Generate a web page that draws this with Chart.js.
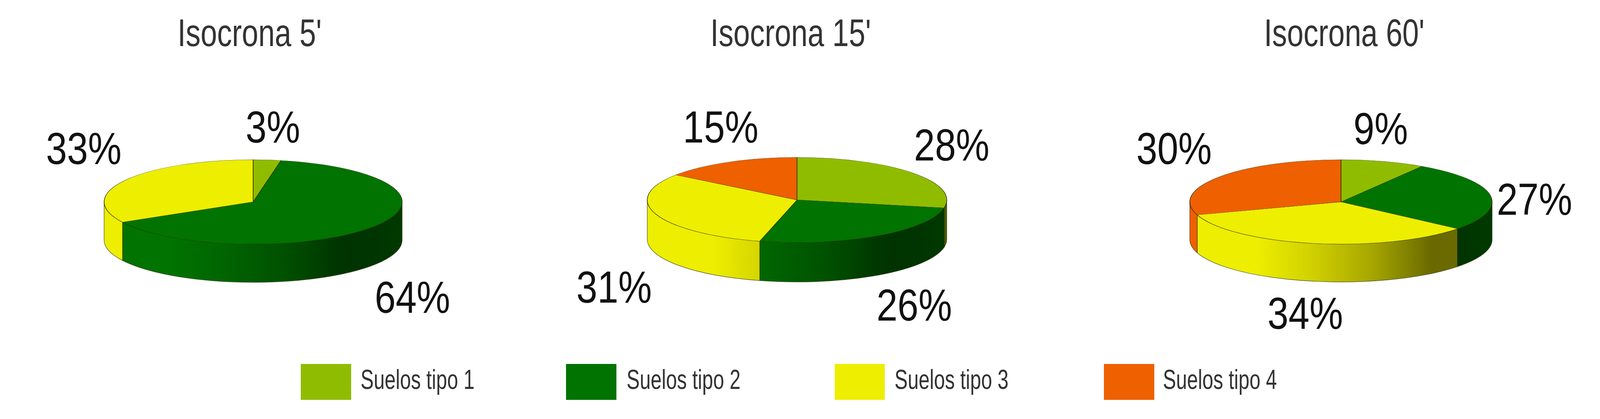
<!DOCTYPE html>
<html lang="es">
<head>
<meta charset="utf-8">
<title>Isocronas</title>
<script src="https://cdn.jsdelivr.net/npm/chart.js@4"></script>
<style>
html,body{margin:0;padding:0;background:#fff;width:100%;height:100%;overflow:hidden}
canvas{position:absolute;top:0}
.sw{position:absolute;top:932px;height:92px}
.lt{position:absolute;top:937px;font:70px/1 "Liberation Sans",Arial,sans-serif;color:#333;transform-origin:0 0;white-space:nowrap}
</style>
</head>
<body>
<div id="legend"></div>
<script>
// ---- data ----
const categories = ["Suelos tipo 1", "Suelos tipo 2", "Suelos tipo 3", "Suelos tipo 4"];
const chartTitles = ["Isocrona 5'", "Isocrona 15'", "Isocrona 60'"];
const isocrona5 = [3, 64, 33, 0];
const isocrona15 = [28, 26, 31, 15];
const isocrona60 = [9, 27, 34, 30];

// ---- styles and layout (designed on a 4488 wide sheet, fitted to the real window) ----
const SX = window.innerWidth / 4488;
const colors = ["#90bc00", "#007300", "#eeee00", "#ee6000"];
const shadeStops = [[0, 1], [0.22, 1], [0.4, 0.88], [0.6, 0.7], [0.8, 0.44], [0.9, 0.45], [1, 0.5]];
const series = [isocrona5, isocrona15, isocrona60];
const panels = [
  {left: 0,    width: 1496, cx: 710,  cy: 517, rx: 418, ry: 108, depth: 98,  titleX: 498,
   labels: [[689, 365], [1051, 801], [129, 420], null]},
  {left: 1496, width: 1496, cx: 2236, cy: 512, rx: 420, ry: 109, depth: 101, titleX: 1993,
   labels: [[2564, 411], [2459, 821], [1617, 775], [1916, 365]]},
  {left: 2992, width: 1496, cx: 3761, cy: 517, rx: 424, ry: 108, depth: 97,  titleX: 3545,
   labels: [[3796, 369], [4198, 550], [3555, 842], [3187, 420]]}
];
const legendX = [844, 1588, 2341, 3097];
const legendTextX = [1011, 1757, 2509, 3262];

function shade(hex, f) {
  const n = parseInt(hex.slice(1), 16);
  const c = [n >> 16 & 255, n >> 8 & 255, n & 255].map(v => Math.round(v * f));
  return `rgb(${c[0]},${c[1]},${c[2]})`;
}
function squeezedText(ctx, text, x, y, size, sx, color) {
  ctx.save();
  ctx.font = `${size}px "Liberation Sans", Arial, sans-serif`;
  ctx.fillStyle = color;
  ctx.textAlign = "left";
  ctx.textBaseline = "alphabetic";
  ctx.translate(x, y);
  ctx.scale(sx, 1);
  ctx.fillText(text, 0, 0);
  ctx.restore();
}

const pie3d = {
  id: "pie3d",
  beforeDatasetsDraw(chart, args, o) {
    const ctx = chart.ctx, meta = chart.getDatasetMeta(0), p = o.panel;
    const first = meta.data[0];
    const cx = first.x, cy = first.y, rx = first.outerRadius, ry = p.ry;
    meta.data.forEach((arc, i) => {
      const s = Math.max(arc.startAngle, 0), e = Math.min(arc.endAngle, Math.PI);
      if (!(s < e)) return;
      const g = ctx.createLinearGradient(cx - rx, 0, cx + rx, 0);
      shadeStops.forEach(st => g.addColorStop(st[0], shade(colors[i], st[1])));
      ctx.beginPath();
      ctx.ellipse(cx, cy, rx, ry, 0, s, e);
      ctx.ellipse(cx, cy + p.depth, rx, ry, 0, e, s, true);
      ctx.closePath();
      ctx.fillStyle = g;
      ctx.fill();
      ctx.lineWidth = 1.5;
      ctx.strokeStyle = "rgba(30,40,0,0.65)";
      ctx.stroke();
    });
    ctx.save();
    ctx.translate(cx, cy);
    ctx.scale(1, ry / rx);
    ctx.translate(-cx, -cy);
  },
  afterDatasetsDraw(chart) { chart.ctx.restore(); },
  afterDraw(chart, args, o) {
    const ctx = chart.ctx, p = o.panel, values = chart.data.datasets[0].data;
    squeezedText(ctx, o.title, (p.titleX - p.left) * SX, 118, 99, 0.84 * SX, "#333333");
    values.forEach((v, i) => {
      if (!v) return;
      const pos = p.labels[i];
      squeezedText(ctx, v + "%", (pos[0] - p.left) * SX, pos[1], 115, 0.92 * SX, "#111111");
    });
  }
};

panels.forEach((p, k) => {
  const cv = document.createElement("canvas");
  const w = Math.round(p.width * SX);
  cv.width = w; cv.height = 1073;
  cv.style.left = Math.round(p.left * SX) + "px";
  cv.style.width = w + "px";
  cv.style.height = "1073px";
  document.body.appendChild(cv);
  const lx = (p.cx - p.left) * SX;
  new Chart(cv, {
    type: "pie",
    data: {
      labels: categories,
      datasets: [{data: series[k], backgroundColor: colors, borderColor: "#2a3000", borderWidth: 1.5}]
    },
    options: {
      responsive: false,
      animation: false,
      devicePixelRatio: 1,
      radius: p.rx * SX,
      layout: {padding: {
        left: Math.max(0, 2 * lx - w), right: Math.max(0, w - 2 * lx),
        top: Math.max(0, 2 * p.cy - 1073), bottom: Math.max(0, 1073 - 2 * p.cy)
      }},
      plugins: {
        legend: {display: false},
        tooltip: {enabled: false},
        title: {display: false},
        pie3d: {panel: p, title: chartTitles[k]}
      }
    },
    plugins: [pie3d]
  });
});

const lg = document.getElementById("legend");
categories.forEach((c, i) => {
  const sw = document.createElement("div");
  sw.className = "sw";
  sw.style.left = legendX[i] * SX + "px";
  sw.style.width = 141 * SX + "px";
  sw.style.background = colors[i];
  lg.appendChild(sw);
  const t = document.createElement("div");
  t.className = "lt";
  t.style.left = legendTextX[i] * SX + "px";
  t.style.transform = `scaleX(${0.79 * SX})`;
  t.textContent = c;
  lg.appendChild(t);
});
</script>
</body>
</html>
